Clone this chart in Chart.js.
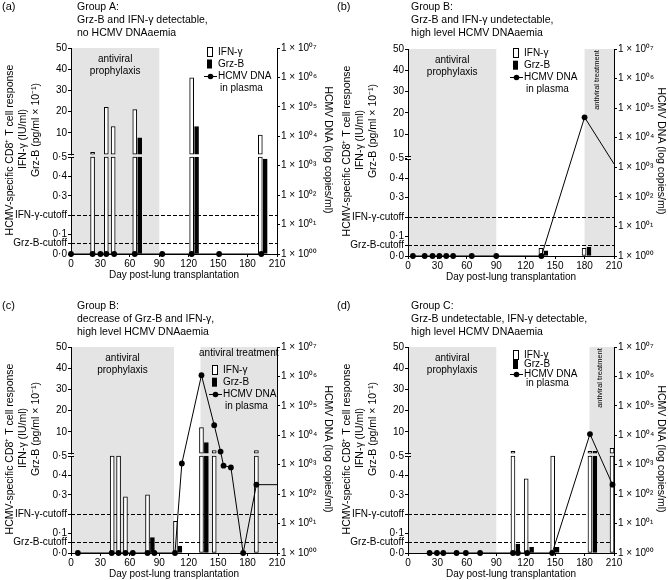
<!DOCTYPE html>
<html>
<head>
<meta charset="utf-8">
<script src="https://cdn.jsdelivr.net/npm/chart.js@4/dist/chart.umd.min.js"></script>
<style>
  html, body { margin: 0; padding: 0; background: #fff; }
  #wrap { position: relative; width: 668px; height: 580px; overflow: hidden; }
  canvas { position: absolute; }
</style>
</head>
<body>
<div id="wrap">
  <canvas id="pa" width="334" height="299" style="left:0;top:0"></canvas>
  <canvas id="pb" width="334" height="299" style="left:334px;top:0"></canvas>
  <canvas id="pc" width="334" height="281" style="left:0;top:299px"></canvas>
  <canvas id="pd" width="334" height="281" style="left:334px;top:299px"></canvas>
</div>
<script>
// shared axes
const dayTicks = [0, 30, 60, 90, 120, 150, 180, 210];
const leftTicks = [0, 0.055, 0.1, 0.2, 0.3, 0.4, 0.5, 10, 20, 30, 40, 50];
const leftLabels = ['0·0', 'Grz-B-cutoff', '0·1', 'IFN-γ-cutoff', '0·3', '0·4', '0·5', '10', '20', '30', '40', '50'];
const dnaTicks = [1, 1e1, 1e2, 1e3, 1e4, 1e5, 1e6, 1e7];
const dnaLabels = ['1 × 10⁰⁰', '1 × 10⁰¹', '1 × 10⁰²', '1 × 10⁰³', '1 × 10⁰⁴', '1 × 10⁰⁵', '1 × 10⁰⁶', '1 × 10⁰⁷'];
const ifnCutoff = 0.2;
const grzCutoff = 0.055;

// (a) Group A
const aDnaDays = [0, 22, 30, 36, 44, 65, 93, 123, 151, 194];
const aDnaVals = [1, 1, 1, 1, 1, 1, 1, 1, 1, 1];
const aIfnDays = [22, 36, 43, 65, 123, 193];
const aIfnVals = [0.8, 22, 13, 21, 36, 9];
const aGrzDays = [70, 128, 198];
const aGrzVals = [7.7, 13, 0.49];
const aProph = [0, 90];
const aTreat = null;

// (b) Group B, undetectable
const bDnaDays = [5, 17, 25, 32, 39, 46, 65, 90, 136, 180, 210];
const bDnaVals = [1, 1, 1, 1, 1, 1, 1, 1, 1, 49000, 1300];
const bIfnDays = [135.5, 179.5];
const bIfnVals = [0.04, 0.04];
const bGrzDays = [140.5, 184.5];
const bGrzVals = [0.026, 0.045];
const bProph = [0, 90];
const bTreat = [180, 210];

// (c) Group B, decrease
const cDnaDays = [7, 41.5, 48.5, 55.5, 63, 78, 85, 106, 113, 133, 146, 152.5, 155.5, 163, 175.5, 189, 210];
const cDnaVals = [1, 1, 1, 1, 1, 1, 1, 1, 1100, 1100000, 22000, 2800, 930, 810, 1, 210, 210];
const cIfnDays = [42, 48.5, 55.5, 78, 106.5, 133, 146, 189];
const cIfnVals = [0.5, 0.5, 0.29, 0.30, 0.163, 12, 1.2, 1.2];
const cGrzDays = [83, 111, 138];
const cGrzVals = [0.079, 0.036, 5];
const cProph = [0, 105];
const cTreat = [132, 210];

// (d) Group C
const dDnaDays = [22, 29.5, 36, 49.5, 59, 73.5, 107, 112, 121.5, 147, 185.5, 208.5];
const dDnaVals = [1, 1, 1, 1, 1, 1, 1, 1, 1, 1, 11000, 210];
const dIfnDays = [107, 120.5, 147.5, 185.5, 208];
const dIfnVals = [0.8, 0.383, 0.5, 0.8, 2.2];
const dGrzDays = [112, 126, 152, 190.5];
const dGrzVals = [0.046, 0.029, 0.029, 0.8];
const dProph = [0, 90];
const dTreat = [185, 210];

const FONT = '"Liberation Sans", Arial, Helvetica, sans-serif';
Chart.defaults.font.family = FONT;
Chart.defaults.color = '#000';

// broken left axis: 0-0.5 stretched, then 10-50 compressed
const LOW = 194, GAP0 = 100, HIGH = 2.125;
const brk = v => v <= 0.5 ? v * LOW : GAP0 + v * HIGH;

function barSets(days, vals, fill, label) {
  const st = {type: 'bar', label: label, yAxisID: 'y', backgroundColor: fill, borderColor: '#000',
    borderWidth: 1, borderSkipped: false, barThickness: 4, grouped: false};
  const low = days.map((d, i) => ({x: d, y: [0, brk(Math.min(vals[i], 0.5))]}));
  const high = days.map((d, i) => ({x: d, y: [GAP0, brk(vals[i])]})).filter((p, i) => vals[i] > 0.5);
  return [Object.assign({data: low}, st), Object.assign({data: high}, st)];
}

function rot(ctx, s, x, y, a) {
  ctx.save();
  ctx.translate(x, y);
  ctx.rotate(a);
  ctx.textAlign = 'center';
  ctx.textBaseline = 'middle';
  ctx.fillText(s, 0, 0);
  ctx.restore();
}

const deco = {
  id: 'deco',
  beforeDraw(chart, args, o) {
    const {ctx, chartArea: a, scales: {x, y}} = chart;
    const top = y.getPixelForValue(brk(50));
    ctx.save();
    ctx.fillStyle = '#e4e4e4';
    [o.proph, o.treat].forEach(r => {
      if (!r) return;
      const x0 = x.getPixelForValue(r[0]), x1 = x.getPixelForValue(r[1]);
      ctx.fillRect(x0, top, x1 - x0, a.bottom - top);
    });
    ctx.restore();
  },
  beforeDatasetsDraw(chart, args, o) {
    const {ctx, chartArea: a, scales: {y}} = chart;
    ctx.save();
    ctx.strokeStyle = '#000';
    ctx.lineWidth = 1;
    ctx.setLineDash([4, 2]);
    [ifnCutoff, grzCutoff].forEach(c => {
      const py = Math.round(y.getPixelForValue(brk(c))) + 0.5;
      ctx.beginPath();
      ctx.moveTo(a.left, py);
      ctx.lineTo(a.right, py);
      ctx.stroke();
    });
    ctx.restore();
  },
  afterDraw(chart, args, o) {
    const {ctx, chartArea: a, scales: {x, y}} = chart;
    ctx.save();
    ctx.fillStyle = '#000';
    ctx.strokeStyle = '#000';
    ctx.lineWidth = 1;
    ctx.textBaseline = 'middle';
    ctx.textAlign = 'left';

    ctx.font = '11px ' + FONT;
    ctx.fillText(o.tag, o.tagX, 7);
    ctx.font = '10.5px ' + FONT;
    o.title.forEach((t, i) => ctx.fillText(t, 77, 7 + i * 13.3));

    // axis titles
    ctx.font = '10.5px ' + FONT;
    rot(ctx, 'HCMV-specific CD8⁺ T cell response', a.left - 61, a.top + 102, -Math.PI / 2);
    rot(ctx, 'IFN-γ (IU/ml)', a.left - 48, a.top + 91, -Math.PI / 2);
    rot(ctx, 'Grz-B (pg/ml × 10⁻¹)', a.left - 35, a.top + 82, -Math.PI / 2);
    rot(ctx, 'HCMV DNA (log copies/ml)', a.right + o.rt, a.top + 102, Math.PI / 2);
    ctx.textAlign = 'center';
    ctx.font = '10px ' + FONT;
    ctx.fillText('Day post-lung transplantation', (a.left + a.right) / 2, a.bottom + 21);

    // shaded region labels
    const pc = (x.getPixelForValue(o.proph[0]) + x.getPixelForValue(o.proph[1])) / 2;
    ctx.fillText('antiviral', pc, a.top + 11);
    ctx.fillText('prophylaxis', pc, a.top + 23);
    if (o.treat) {
      const tc = (x.getPixelForValue(o.treat[0]) + x.getPixelForValue(o.treat[1])) / 2;
      if (o.treatDir === 'h') {
        ctx.fillText('antiviral treatment', tc, a.top + 6);
      } else {
        ctx.font = '7.5px ' + FONT;
        rot(ctx, 'antiviral treatment', tc - 2, a.top + 31, -Math.PI / 2);
      }
    }

    // legend
    const L = o.leg;
    ctx.font = '10px ' + FONT;
    ctx.textAlign = 'left';
    ctx.fillStyle = '#fff';
    ctx.fillRect(L.x - 10, L.y - 4, 4, 9);
    ctx.strokeRect(L.x - 10.5, L.y - 4.5, 5, 9);
    ctx.fillStyle = '#000';
    ctx.fillRect(L.x - 11, L.y + L.dy - 4.5, 5, 9);
    const ly = Math.round(L.y + 2 * L.dy) + 0.5;
    ctx.beginPath();
    ctx.moveTo(L.x - 14, ly);
    ctx.lineTo(L.x - 1, ly);
    ctx.stroke();
    ctx.beginPath();
    ctx.arc(L.x - 7.5, ly, 2.8, 0, Math.PI * 2);
    ctx.fill();
    ctx.fillText('IFN-γ', L.x, L.y);
    ctx.fillText('Grz-B', L.x, L.y + L.dy);
    ctx.fillText('HCMV DNA', L.x, L.y + 2 * L.dy);
    ctx.fillText('in plasma', L.x + 2, L.y + 3 * L.dy);

    // axis break on the left axis
    const ya = Math.round(y.getPixelForValue(brk(0.5))) + 0.5;
    const yb = Math.round(y.getPixelForValue(GAP0)) + 0.5;
    ctx.fillStyle = '#fff';
    ctx.fillRect(a.left - 1, yb + 1, 3, ya - yb - 1.5);
    ctx.beginPath();
    ctx.moveTo(a.left - 3, yb); ctx.lineTo(a.left + 3, yb);
    ctx.moveTo(a.left - 3, ya); ctx.lineTo(a.left + 3, ya);
    ctx.stroke();
    ctx.restore();
  }
};

function build(id, L, dnaDays, dnaVals, ifnDays, ifnVals, grzDays, grzVals, proph, treat) {
  const cv = document.getElementById(id);
  const W = cv.width, H = cv.height;
  const axisGrid = {drawOnChartArea: false, drawTicks: true, tickLength: 3, color: '#000', offset: false};
  const tickFont = {size: 10, family: FONT};
  const datasets = [
    {type: 'line', label: 'HCMV DNA in plasma', yAxisID: 'y2',
      data: dnaDays.map((d, i) => ({x: d, y: dnaVals[i]})),
      borderColor: '#000', borderWidth: 1, tension: 0, clip: false,
      pointRadius: c => (c.raw && c.raw.x >= 210 ? 0 : 2.9),
      pointBackgroundColor: '#000', pointBorderColor: '#000', pointBorderWidth: 0},
    ...barSets(grzDays, grzVals, '#000', 'Grz-B'),
    ...barSets(ifnDays, ifnVals, '#fff', 'IFN-γ')
  ];
  new Chart(cv, {
    type: 'bar',
    data: {datasets: datasets},
    options: {
      responsive: false,
      animation: false,
      devicePixelRatio: 1,
      layout: {padding: {top: L.top, left: 0, right: 0, bottom: 0}},
      plugins: {
        legend: {display: false},
        tooltip: {enabled: false},
        deco: Object.assign({proph: proph, treat: treat}, L)
      },
      scales: {
        x: {
          type: 'linear', min: 0, max: 210, offset: false, bounds: 'data',
          afterBuildTicks: s => { s.ticks = dayTicks.map(v => ({value: v})); },
          afterFit: s => { s.height = H - L.bottom; },
          grid: axisGrid,
          border: {display: true, color: '#000', width: 1},
          ticks: {color: '#000', font: tickFont, padding: 1, maxRotation: 0, autoSkip: false}
        },
        y: {
          type: 'linear', position: 'left', min: 0, max: brk(50), bounds: 'data',
          afterBuildTicks: s => { s.ticks = leftTicks.map(v => ({value: brk(v)})); },
          afterFit: s => { s.width = L.left; },
          grid: axisGrid,
          border: {display: true, color: '#000', width: 1},
          ticks: {color: '#000', font: tickFont, padding: 1, autoSkip: false,
            callback: (v, i) => leftLabels[i]}
        },
        y2: {
          type: 'logarithmic', position: 'right', min: 1, max: 1e7,
          afterBuildTicks: s => { s.ticks = dnaTicks.map(v => ({value: v})); },
          afterFit: s => { s.width = W - L.right; },
          grid: axisGrid,
          border: {display: true, color: '#000', width: 1},
          ticks: {color: '#000', font: tickFont, padding: 1, autoSkip: false,
            callback: (v, i) => dnaLabels[i]}
        }
      }
    },
    plugins: [deco]
  });
}

build('pa', {left: 71, right: 277, top: 48, bottom: 254, rt: 51, tag: '(a)', tagX: 2,
  title: ['Group A:', 'Grz-B and IFN-γ detectable,', 'no HCMV DNAaemia'],
  leg: {x: 218, y: 52, dy: 12}, treatDir: 'v'},
  aDnaDays, aDnaVals, aIfnDays, aIfnVals, aGrzDays, aGrzVals, aProph, aTreat);

build('pb', {left: 74, right: 280, top: 49, bottom: 256, rt: 47, tag: '(b)', tagX: 3,
  title: ['Group B:', 'Grz-B and IFN-γ undetectable,', 'high level HCMV DNAaemia'],
  leg: {x: 190, y: 53, dy: 12.2}, treatDir: 'v'},
  bDnaDays, bDnaVals, bIfnDays, bIfnVals, bGrzDays, bGrzVals, bProph, bTreat);

build('pc', {left: 71, right: 277, top: 48, bottom: 254, rt: 51, tag: '(c)', tagX: 2,
  title: ['Group B:', 'decrease of Grz-B and IFN-γ,', 'high level HCMV DNAaemia'],
  leg: {x: 223, y: 71, dy: 12.2}, treatDir: 'h'},
  cDnaDays, cDnaVals, cIfnDays, cIfnVals, cGrzDays, cGrzVals, cProph, cTreat);

build('pd', {left: 74, right: 280, top: 48, bottom: 254, rt: 47, tag: '(d)', tagX: 3,
  title: ['Group C:', 'Grz-B undetectable, IFN-γ detectable,', 'high level HCMV DNAaemia'],
  leg: {x: 190, y: 56, dy: 9.5}, treatDir: 'v'},
  dDnaDays, dDnaVals, dIfnDays, dIfnVals, dGrzDays, dGrzVals, dProph, dTreat);
</script>
</body>
</html>
